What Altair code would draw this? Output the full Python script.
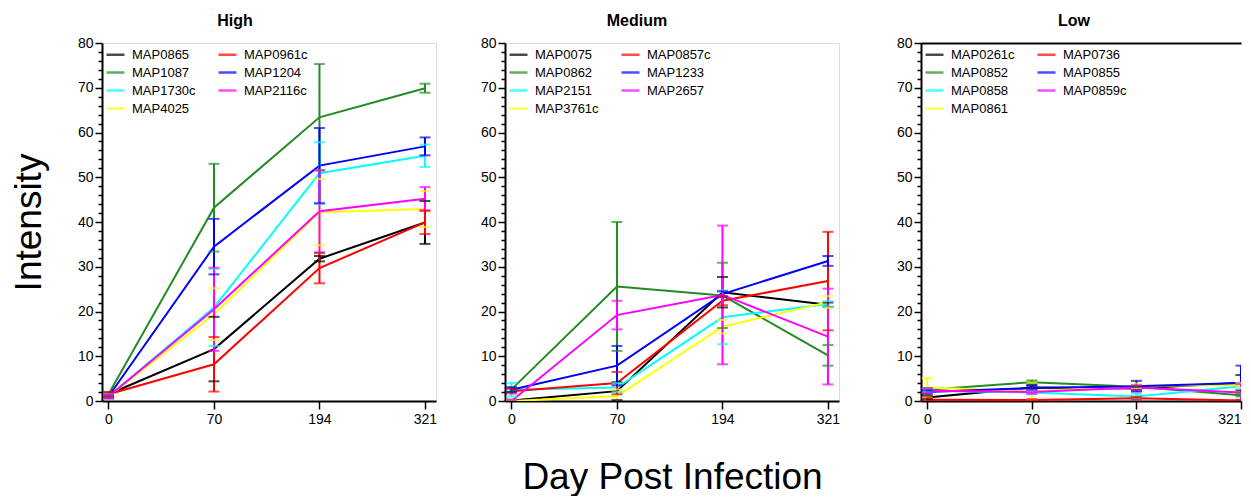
import altair as alt
import pandas as pd

days = ["0", "70", "194", "321"]
# legend fills column by column: left column first, then right column
colors = ["#000000", "#228B22", "#00FFFF", "#FFFF00", "#FF0000", "#0000FF", "#FF00FF"]

high_genes = ["MAP0865", "MAP1087", "MAP1730c", "MAP4025", "MAP0961c", "MAP1204", "MAP2116c"]
high_mean = [
    [1.5, 11.6, 31.8, 39.9],
    [1.5, 43.2, 63.4, 69.9],
    [1.0, 20.9, 50.9, 54.8],
    [1.0, 19.4, 42.2, 42.9],
    [1.5, 8.2, 29.7, 39.9],
    [1.0, 34.5, 52.6, 56.9],
    [1.0, 20.5, 42.4, 45.2],
]
high_err = [
    [0.4, 7.2, 0.6, 4.8],
    [0.4, 9.8, 11.9, 1.0],
    [0.4, 8.6, 6.9, 2.5],
    [0.5, 5.8, 7.4, 4.0],
    [0.5, 6.1, 3.4, 2.6],
    [0.4, 6.2, 8.4, 2.0],
    [0.4, 9.3, 9.2, 2.6],
]

med_genes = ["MAP0075", "MAP0862", "MAP2151", "MAP3761c", "MAP0857c", "MAP1233", "MAP2657"]
med_mean = [
    [0.1, 2.2, 24.3, 21.5],
    [2.6, 25.6, 23.6, 10.2],
    [2.5, 3.0, 18.7, 21.7],
    [0.0, 1.1, 16.6, 22.1],
    [2.2, 4.0, 22.4, 26.8],
    [2.5, 7.9, 23.9, 31.3],
    [0.0, 19.2, 23.7, 14.4],
]
med_err = [
    [0.2, 2.0, 3.4, 0.5],
    [0.5, 14.4, 7.3, 2.3],
    [1.5, 1.0, 6.0, 0.6],
    [0.3, 1.5, 1.5, 1.3],
    [0.5, 2.5, 1.0, 11.0],
    [0.5, 4.4, 0.6, 1.1],
    [0.3, 3.2, 15.5, 10.7],
]

low_genes = ["MAP0261c", "MAP0852", "MAP0858", "MAP0861", "MAP0736", "MAP0855", "MAP0859c"]
low_mean = [
    [0.8, 3.0, 2.8, 4.1],
    [2.5, 4.2, 3.2, 1.3],
    [2.3, 1.9, 1.0, 3.3],
    [3.0, 2.2, 3.4, 3.5],
    [0.3, 0.2, 0.6, 0.1],
    [2.0, 2.9, 3.3, 4.0],
    [2.3, 2.0, 3.0, 1.9],
]
low_err = [
    [0.4, 0.5, 0.4, 1.7],
    [0.4, 0.4, 0.3, 0.3],
    [0.4, 0.4, 0.6, 0.6],
    [2.1, 1.9, 0.5, 0.5],
    [0.3, 0.2, 0.3, 0.1],
    [0.4, 0.5, 1.2, 3.9],
    [0.5, 0.4, 0.5, 1.9],
]

FONT = "Liberation Sans"


def build(genes, means, errs):
    rows = []
    for g, m, e in zip(genes, means, errs):
        for d, mv, ev in zip(days, m, e):
            rows.append({"gene": g, "day": d, "mean": mv, "lo": mv - ev, "hi": mv + ev})
    return pd.DataFrame(rows)


def panel(genes, means, errs, title, title_dx, y_title=False, x_title=False,
          min_ext=25, cut=False, width=334):
    df = build(genes, means, errs)
    x_axis = alt.Axis(
        title="Day Post Infection" if x_title else None,
        labelAngle=0, labelFontSize=14, labelFont=FONT, labelColor="black",
        labelAlign={"condition": {"test": "datum.label === '321'",
                                  "value": "right" if cut else "center"},
                    "value": "center"},
        tickSize=8, tickColor="black", tickWidth=1.5,
        domainColor="black", domainWidth=2, labelPadding=3,
        titleFontSize=37, titleFont=FONT, titleFontWeight="normal",
        titleColor="black", titlePadding=33,
    )
    y_axis = alt.Axis(
        title="Intensity" if y_title else None,
        values=list(range(0, 81, 2)),
        labelExpr="datum.value % 10 === 0 ? datum.label : ''",
        labelOverlap=False,
        labelFontSize=14, labelFont=FONT, labelColor="black", labelPadding=2,
        tickSize={"condition": {"test": "datum.value % 10 === 0", "value": 7}, "value": 4},
        tickColor="black", tickWidth=1.5,
        domainColor="black", domainWidth=2, grid=False,
        titleFontSize=37, titleFont=FONT, titleFontWeight="normal",
        titleColor="black", titlePadding=29, minExtent=min_ext,
    )
    yscale = alt.Scale(domain=[0, 80], nice=False)
    if cut:
        xscale = alt.Scale(type="point", padding=0.03, align=1.0)
    else:
        xscale = alt.Scale(type="point", padding=0.083, align=0.37)
    x = alt.X("day:O", sort=days, scale=xscale, axis=x_axis)
    color = alt.Color(
        "gene:N",
        scale=alt.Scale(domain=genes, range=colors),
        legend=alt.Legend(
            title=None, orient="none", legendX=3, legendY=1, columns=2,
            symbolType="stroke", symbolSize=324, symbolStrokeWidth=2.5,
            labelFontSize=13, labelFont=FONT, labelColor="black", padding=0,
            rowPadding=0, columnPadding=17, labelOffset=6,
        ),
    )
    base = alt.Chart(df)
    lines = base.mark_line(strokeWidth=2, clip=True).encode(
        x=x, y=alt.Y("mean:Q", scale=yscale, axis=y_axis), color=color)
    rules = base.mark_rule(strokeWidth=2, clip=True).encode(
        x=x, y=alt.Y("lo:Q", scale=yscale, axis=y_axis), y2="hi:Q", color=color)
    cap_lo = base.mark_tick(orient="horizontal", size=11, thickness=2, clip=True).encode(
        x=x, y=alt.Y("lo:Q", scale=yscale, axis=y_axis), color=color)
    cap_hi = base.mark_tick(orient="horizontal", size=11, thickness=2, clip=True).encode(
        x=x, y=alt.Y("hi:Q", scale=yscale, axis=y_axis), color=color)
    inner = alt.layer(lines, rules, cap_lo, cap_hi)
    props = dict(
        width=width, height=358,
        title=alt.TitleParams(title, fontSize=16, fontWeight="bold", font=FONT,
                              color="black", offset=7, anchor="middle", dx=title_dx),
    )
    if cut:
        top_axis = alt.Axis(orient="top", labels=False, ticks=False, title=None,
                            domainColor="black", domainWidth=2)
        top = base.mark_line(opacity=0, clip=True).encode(
            x=alt.X("day:O", sort=days, scale=xscale, axis=top_axis),
            y=alt.Y("mean:Q", scale=yscale, axis=y_axis),
            detail="gene:N",
        )
        props["view"] = alt.ViewBackground(stroke="transparent")
        return alt.layer(inner, top).resolve_axis(x="independent").properties(**props)
    return inner.properties(**props)


p1 = panel(high_genes, high_mean, high_err, "High", -34, y_title=True)
p2 = panel(med_genes, med_mean, med_err, "Medium", -35, x_title=True)
p3 = panel(low_genes, low_mean, low_err, "Low", -7, min_ext=38, cut=True, width=320)

chart = (
    alt.hconcat(p1, p2, p3, spacing=41)
    .resolve_scale(color="independent")
    .properties(padding={"left": 1, "top": 4, "right": 0, "bottom": 0})
    .configure_view(stroke="black", strokeWidth=2)
    .configure(font=FONT)
)

chart.save("out.html", embed_options={"renderer": "svg", "actions": False})
